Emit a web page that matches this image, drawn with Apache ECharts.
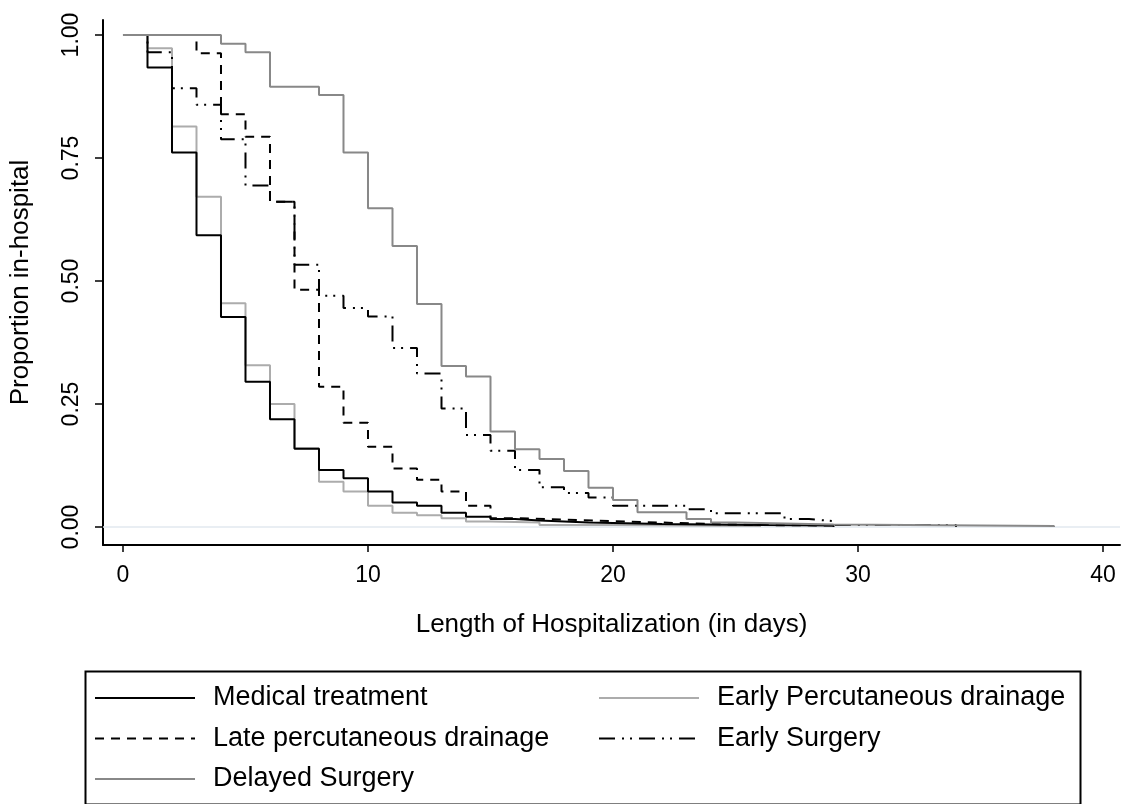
<!DOCTYPE html>
<html>
<head>
<meta charset="utf-8">
<title>Proportion in-hospital</title>
<script src="https://cdn.jsdelivr.net/npm/echarts@6/dist/echarts.min.js"></script>
<style>
  html, body { margin: 0; padding: 0; background: #fff; }
  #main { width: 1132px; height: 804px; }
</style>
</head>
<body>
<div id="main"></div>
<script>
// tick labels
var xTicks = [0, 10, 20, 30, 40];
var yTicks = [0, 0.25, 0.5, 0.75, 1];

// series names
var names = ['Medical treatment', 'Late percutaneous drainage', 'Delayed Surgery',
  'Early Percutaneous drainage', 'Early Surgery'];

// Kaplan-Meier steps (day, proportion still in hospital)
var medDays = [0, 1, 2, 3, 4, 5, 6, 7, 8, 9, 10, 11, 12, 13, 14, 15, 16, 17, 18, 19, 20, 22, 24, 26, 29];
var medProp = [1.00, 0.934, 0.761, 0.593, 0.427, 0.295, 0.219, 0.159, 0.116, 0.099, 0.072, 0.050, 0.043, 0.029, 0.021, 0.016, 0.013, 0.011, 0.009, 0.008, 0.006, 0.005, 0.004, 0.003, 0];

var latePercDays = [0, 3, 4, 5, 6, 7, 8, 9, 10, 11, 12, 13, 14, 15, 16, 18, 20, 22, 24, 26, 29];
var latePercProp = [1.00, 0.963, 0.839, 0.793, 0.661, 0.482, 0.285, 0.212, 0.163, 0.119, 0.096, 0.072, 0.043, 0.018, 0.015, 0.012, 0.009, 0.006, 0.004, 0.003, 0];

var delayedDays = [0, 4, 5, 6, 8, 9, 10, 11, 12, 13, 14, 15, 16, 17, 18, 19, 20, 21, 23, 24, 25, 29, 38];
var delayedProp = [1.00, 0.982, 0.965, 0.895, 0.878, 0.761, 0.648, 0.571, 0.453, 0.327, 0.306, 0.194, 0.158, 0.138, 0.114, 0.080, 0.055, 0.030, 0.016, 0.009, 0.005, 0.002, 0];

var earlyPercDays = [0, 1, 2, 3, 4, 5, 6, 7, 8, 9, 10, 11, 12, 13, 14, 15, 17, 20, 23, 26];
var earlyPercProp = [1.00, 0.973, 0.814, 0.671, 0.455, 0.329, 0.250, 0.160, 0.092, 0.072, 0.043, 0.029, 0.024, 0.018, 0.011, 0.009, 0.004, 0.003, 0.002, 0];

var earlySurgDays = [0, 1, 2, 3, 4, 5, 6, 7, 8, 9, 10, 11, 12, 13, 14, 15, 16, 17, 18, 19, 20, 23, 24, 27, 28, 29, 34];
var earlySurgProp = [1.00, 0.965, 0.892, 0.858, 0.788, 0.694, 0.661, 0.533, 0.470, 0.445, 0.428, 0.364, 0.312, 0.241, 0.187, 0.155, 0.116, 0.081, 0.069, 0.060, 0.043, 0.036, 0.028, 0.016, 0.012, 0.004, 0];

function pairs(days, vals) {
  return days.map(function (d, i) { return [d, vals[i]]; });
}

var font = "'Liberation Sans', Arial, sans-serif";

function km(name, days, vals, color, type, z) {
  return {
    name: name,
    type: 'line',
    step: 'end',
    showSymbol: false,
    symbol: 'none',
    z: z,
    data: pairs(days, vals),
    lineStyle: { color: color, width: 2, type: type },
    itemStyle: { color: color }
  };
}

var series = [
  km(names[0], medDays, medProp, '#000000', 'solid', 3),
  km(names[3], earlyPercDays, earlyPercProp, '#acacac', 'solid', 2),
  km(names[1], latePercDays, latePercProp, '#000000', [9, 7], 4),
  km(names[4], earlySurgDays, earlySurgProp, '#000000', [16, 7, 2, 6, 2, 7], 5),
  km(names[2], delayedDays, delayedProp, '#888888', 'solid', 6)
];
series[0].markLine = {
  silent: true,
  symbol: 'none',
  label: { show: false },
  z: 1,
  lineStyle: { color: '#e2e9ef', width: 1.5, type: 'solid' },
  data: [{ yAxis: 0 }]
};

var legendCommon = {
  orient: 'vertical',
  top: 683,
  padding: 0,
  itemGap: 10.5,
  itemWidth: 100,
  itemHeight: 14,
  selectedMode: false,
  itemStyle: { opacity: 0 },
  textStyle: { fontFamily: font, fontSize: 27, color: '#000', lineHeight: 30, padding: [0, 0, 0, 13] }
};

var myChart = echarts.init(document.getElementById('main'), null, { renderer: 'canvas' });
myChart.setOption({
  animation: false,
  backgroundColor: '#fff',
  textStyle: { fontFamily: font },
  grid: { left: 103, right: 12, top: 20, bottom: 259, containLabel: false },
  xAxis: {
    type: 'value',
    min: -0.816,
    max: 40.694,
    name: 'Length of Hospitalization (in days)',
    nameLocation: 'middle',
    nameGap: 67,
    nameTextStyle: { fontFamily: font, fontSize: 26, color: '#000' },
    axisLine: { show: true, onZero: false, lineStyle: { color: '#000', width: 2 } },
    axisTick: { show: true, customValues: xTicks, length: 7, lineStyle: { color: '#000', width: 1.5 } },
    axisLabel: { customValues: xTicks, fontFamily: font, fontSize: 23, color: '#000', margin: 19 },
    splitLine: { show: false }
  },
  yAxis: {
    type: 'value',
    min: -0.0366,
    max: 1.0305,
    name: 'Proportion in-hospital',
    nameLocation: 'middle',
    nameGap: 69,
    nameTextStyle: { fontFamily: font, fontSize: 26, color: '#000' },
    axisLine: { show: true, onZero: false, lineStyle: { color: '#000', width: 2 } },
    axisTick: { show: true, customValues: yTicks, length: 8, lineStyle: { color: '#000', width: 1.5 } },
    axisLabel: {
      customValues: yTicks, rotate: 90, fontFamily: font, fontSize: 23, color: '#000', margin: 20,
      formatter: function (v) { return v.toFixed(2); }
    },
    splitLine: { show: false }
  },
  legend: [
    Object.assign({}, legendCommon, { left: 94, data: [names[0], names[1], names[2]] }),
    Object.assign({}, legendCommon, { left: 598, data: [names[3], names[4]] })
  ],
  graphic: [{
    type: 'rect',
    left: 83,
    top: 669,
    shape: { width: 995, height: 133 },
    style: { fill: 'none', stroke: '#000', lineWidth: 2 },
    silent: true
  }],
  series: series
});
</script>
</body>
</html>
